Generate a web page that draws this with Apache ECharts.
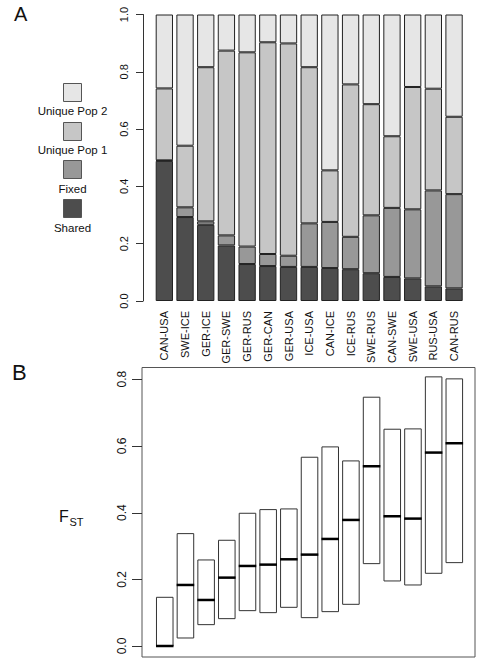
<!DOCTYPE html>
<html>
<head>
<meta charset="utf-8">
<script src="https://cdn.jsdelivr.net/npm/echarts@6/dist/echarts.min.js"></script>
<style>html,body{margin:0;padding:0;background:#fff}#c{width:478px;height:660px}</style>
</head>
<body>
<div id="c"></div>
<script>
// ---- data ----
const categories = ['CAN-USA','SWE-ICE','GER-ICE','GER-SWE','GER-RUS','GER-CAN','GER-USA','ICE-USA','CAN-ICE','ICE-RUS','SWE-RUS','CAN-SWE','SWE-USA','RUS-USA','CAN-RUS'];
const shared   = [0.489,0.293,0.266,0.194,0.129,0.122,0.119,0.119,0.115,0.111,0.097,0.084,0.079,0.051,0.044];
const fixed    = [0.002,0.034,0.012,0.035,0.061,0.042,0.039,0.152,0.161,0.113,0.202,0.241,0.241,0.335,0.329];
const uniquePop1 = [0.251,0.215,0.538,0.645,0.678,0.739,0.741,0.545,0.180,0.532,0.388,0.250,0.427,0.355,0.270];
const uniquePop2 = [0.258,0.458,0.184,0.126,0.132,0.097,0.101,0.184,0.544,0.244,0.313,0.425,0.253,0.259,0.357];
const propTicks = [0,0.2,0.4,0.6,0.8,1.0];

const fstLow    = [0.000,0.024,0.064,0.082,0.106,0.100,0.116,0.085,0.103,0.125,0.247,0.195,0.183,0.218,0.250];
const fstMedian = [0.000,0.183,0.138,0.205,0.240,0.244,0.260,0.274,0.321,0.378,0.539,0.389,0.382,0.580,0.608];
const fstHigh   = [0.146,0.337,0.258,0.317,0.398,0.409,0.411,0.566,0.597,0.555,0.746,0.650,0.651,0.807,0.801];
const fstTicks = [0,0.2,0.4,0.6,0.8];

const legendNames = ['Unique Pop 2','Unique Pop 1','Fixed','Shared'];
const colors = {shared:'#4D4D4D', fixed:'#989898', up1:'#C6C6C6', up2:'#E6E6E6'};

// ---- chart ----
const FONT = '"Liberation Sans", Arial, sans-serif';
const chart = echarts.init(document.getElementById('c'), null, {renderer:'svg'});

const barBase = {type:'bar', stack:'p', xAxisIndex:0, yAxisIndex:0, barWidth:17.3,
  itemStyle:{borderColor:'#222', borderWidth:1}};

const boxData = categories.map((c,i)=>[i, fstLow[i], fstMedian[i], fstHigh[i]]);
const X_MIN_B = -1.1, X_MAX_B = 15.0;

const legendColors = [colors.up2, colors.up1, colors.fixed, colors.shared];
const legendGraphics = [];
legendNames.forEach((n,k)=>{
  const y0 = 82.7 + k*38.8;
  legendGraphics.push({type:'rect', shape:{x:63.5, y:Math.round(y0)+0.5, width:18, height:18},
    style:{fill:legendColors[k], stroke:'#555', lineWidth:1}});
  legendGraphics.push({type:'text', x:72.5, y:y0+28.5,
    style:{text:n, font:'11.5px '+FONT, fill:'#111', textAlign:'center', textVerticalAlign:'middle'}});
});

const textGraphics = [
  {type:'text', x:14, y:13.5, style:{text:'A', font:'20px '+FONT, fill:'#111', textVerticalAlign:'middle'}},
  {type:'text', x:12, y:372, style:{text:'B', font:'22px '+FONT, fill:'#111', textVerticalAlign:'middle'}},
  {type:'text', x:59, y:516, style:{text:'F', font:'16px '+FONT, fill:'#111', textVerticalAlign:'middle'}},
  {type:'text', x:69.5, y:521.5, style:{text:'ST', font:'11px '+FONT, fill:'#111', textVerticalAlign:'middle'}}
];

const option = {
  animation:false,
  backgroundColor:'#fff',
  textStyle:{fontFamily:FONT},
  grid:[
    {left:154, right:13.6, top:14.5, bottom:359},
    // panel B data area: 0.0 .. 0.8
    {left:142, right:3, top:379.2, bottom:14},
    // panel B frame
    {left:142, right:3, top:367.5, bottom:3, show:true, borderColor:'#555', borderWidth:1, backgroundColor:'transparent'}
  ],
  xAxis:[
    {type:'category', gridIndex:0, data:categories,
      axisLine:{show:false}, axisTick:{show:false},
      axisLabel:{rotate:90, fontSize:11, color:'#111', margin:10, interval:0, fontFamily:FONT}},
    {type:'value', gridIndex:1, min:X_MIN_B, max:X_MAX_B, show:false, axisLine:{onZero:false}},
    {type:'value', gridIndex:2, min:0, max:1, show:false, axisLine:{onZero:false}}
  ],
  yAxis:[
    {type:'value', gridIndex:0, min:0, max:1, interval:0.2, offset:11,
      splitLine:{show:false},
      axisLine:{show:true, onZero:false, lineStyle:{color:'#333'}},
      axisTick:{show:true, length:7, lineStyle:{color:'#333'}},
      axisLabel:{rotate:90, fontSize:11, color:'#111', margin:14, fontFamily:FONT,
        formatter:v=>v.toFixed(1)}},
    {type:'value', gridIndex:1, min:0, max:0.8, interval:0.2,
      splitLine:{show:false},
      axisLine:{show:false, onZero:false},
      axisTick:{show:false},
      axisLabel:{rotate:90, fontSize:12, color:'#111', margin:14, fontFamily:FONT,
        formatter:v=>v.toFixed(1)}},
    {type:'value', gridIndex:2, min:0, max:1, show:false, axisLine:{onZero:false}}
  ],
  series:[
    Object.assign({}, barBase, {name:'Shared', data:shared, itemStyle:Object.assign({}, barBase.itemStyle, {color:colors.shared})}),
    Object.assign({}, barBase, {name:'Fixed', data:fixed, itemStyle:Object.assign({}, barBase.itemStyle, {color:colors.fixed})}),
    Object.assign({}, barBase, {name:'Unique Pop 1', data:uniquePop1, itemStyle:Object.assign({}, barBase.itemStyle, {color:colors.up1})}),
    Object.assign({}, barBase, {name:'Unique Pop 2', data:uniquePop2, itemStyle:Object.assign({}, barBase.itemStyle, {color:colors.up2})}),
    {type:'custom', name:'FST', xAxisIndex:1, yAxisIndex:1, data:boxData, clip:false,
      renderItem:function(params, api){
        const i = api.value(0);
        const lo = api.coord([i, api.value(1)]);
        const md = api.coord([i, api.value(2)]);
        const hi = api.coord([i, api.value(3)]);
        const w = api.size([0.8, 0])[0];
        return {type:'group', children:[
          {type:'rect', shape:{x:lo[0]-w/2, y:hi[1], width:w, height:lo[1]-hi[1]},
            style:{fill:'#fff', stroke:'#333', lineWidth:1}},
          {type:'line', shape:{x1:md[0]-w/2-0.5, y1:md[1], x2:md[0]+w/2+0.5, y2:md[1]},
            style:{stroke:'#000', lineWidth:2.5}}
        ]};
      }}
  ],
  graphic:textGraphics.concat(legendGraphics)
};
chart.setOption(option);

// Panel B y-axis tick marks, positioned through the axis scale
const tickGraphics = fstTicks.map(v=>{
  const p = chart.convertToPixel({xAxisIndex:1, yAxisIndex:1}, [X_MIN_B, v]);
  const y = Math.round(p[1]) + 0.5;
  return {type:'line', z:100, shape:{x1:p[0]-10, y1:y, x2:p[0], y2:y},
    style:{stroke:'#333', lineWidth:1}};
});
chart.setOption({graphic:textGraphics.concat(legendGraphics).concat(tickGraphics)}, {replaceMerge:['graphic']});
</script>
</body>
</html>
